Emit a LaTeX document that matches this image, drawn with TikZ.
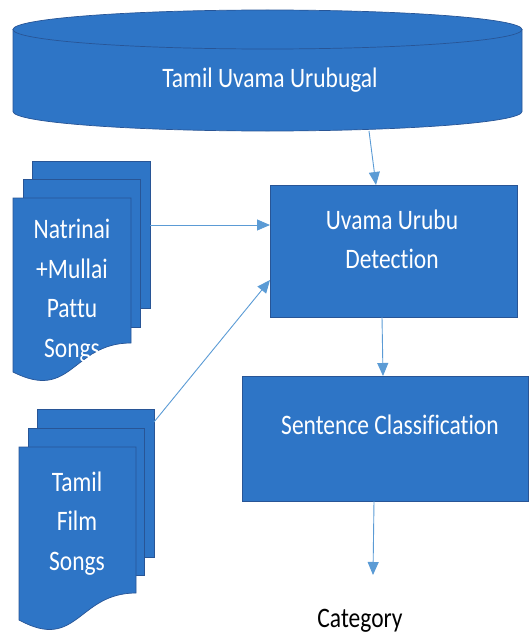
\documentclass[tikz,border=0pt]{standalone}
\usepackage{graphicx}
\usepackage{fontspec}
\setmainfont{Carlito}[Ligatures=NoCommon]
\usetikzlibrary{arrows.meta}
\definecolor{fillblue}{RGB}{46,117,198}
\definecolor{edgeblue}{RGB}{40,85,150}
\definecolor{linkblue}{RGB}{91,155,213}
\newcommand{\stretchtxt}[1]{\scalebox{1}[1.2]{\begin{tabular}{@{}c@{}}#1\end{tabular}}}
\begin{document}
\begin{tikzpicture}[x=1pt,y=-1pt,
  shapefill/.style={fill=fillblue, draw=edgeblue, line width=0.7pt},
  box/.style={shapefill, rectangle, inner sep=0pt, outer sep=0pt},
  lbl/.style={text=white, inner sep=0pt, font=\fontsize{23.5}{33}\selectfont},
  blk/.style={text=black, inner sep=0pt, font=\fontsize{23.5}{33}\selectfont},
  conn/.style={draw=linkblue, line width=0.9pt, -{Triangle[length=13pt,width=11pt]}}]
\useasboundingbox (0,0) rectangle (530,634);
% database cylinder
\path[shapefill] (13,29.5) -- (13,111.5) arc[start angle=180,end angle=360,x radius=254.5pt,y radius=19.5pt] -- (522,29.5) -- cycle;
\path[shapefill] (267.5,29.5) ellipse[x radius=254.5pt, y radius=19.5pt];
\node[lbl] (db) at (270,80) {\stretchtxt{Tamil Uvama Urubugal}};
% process boxes
\node[box, minimum width=247pt, minimum height=132pt] (uvama) at (393.5,251) {};
\node[lbl] (uvtxt) at (392,241) {\stretchtxt{Uvama Urubu\\Detection}};
\node[box, minimum width=286pt, minimum height=125pt] (sent) at (385,438.5) {};
\node[lbl] (senttxt) at (390,427) {\stretchtxt{Sentence Classification}};
\node[blk] (cat) at (360,620) {\stretchtxt{Category}};
% document stack 1
\path[shapefill] (32,161) rectangle (150,308);
\path[shapefill] (23,179) rectangle (140,327);
\path[shapefill] (13,198) -- (131,198) -- (131,343) .. controls (72,343) and (72,402) .. (13,372) -- cycle;
\node[lbl] (nattxt) at (72,290) {\stretchtxt{Natrinai\\+Mullai\\Pattu\\Songs}};
% document stack 2
\path[shapefill] (37,409) rectangle (154,557);
\path[shapefill] (28,428) rectangle (144,575);
\path[shapefill] (19,447) -- (136,447) -- (136,593) .. controls (77.5,593) and (77.5,652) .. (19,620) -- cycle;
\node[lbl] (filmtxt) at (77,523) {\stretchtxt{Tamil\\Film\\Songs}};
% connector ends
\coordinate (dbout) at (369,131);
\coordinate (uvin) at (376,185);
\coordinate (natout) at (150,225);
\coordinate (filmout) at (154,422);
\coordinate (uvin2) at (270,280);
\coordinate (catin) at (373,575);
% connectors
\draw[conn] (dbout) -- (uvin);
\draw[conn] (natout) -- (uvama.west |- natout);
\draw[conn] (filmout) -- (uvin2);
\draw[conn] ([xshift=-11.5pt]uvama.south) -- ([xshift=-2pt]sent.north);
\draw[conn] ([xshift=-11pt]sent.south) -- (catin);
\end{tikzpicture}
\end{document}
